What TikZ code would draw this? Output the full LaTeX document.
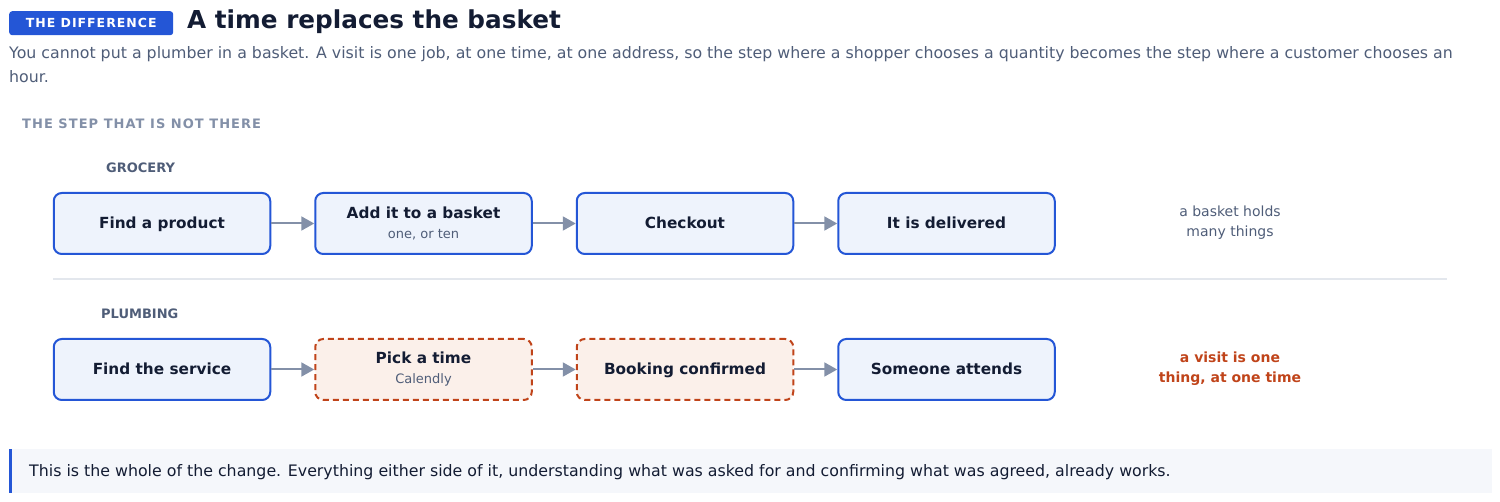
\documentclass[tikz,border=0pt]{standalone}
\usepackage{fontspec}
\setmainfont{DejaVu Sans}
\newfontfamily\capsfont[LetterSpace=8]{DejaVu Sans}
\usetikzlibrary{positioning,arrows.meta}
\definecolor{ink}{HTML}{131C33}
\definecolor{slate}{HTML}{4F5D78}
\definecolor{mute}{HTML}{8390A8}
\definecolor{brand}{HTML}{2456D6}
\definecolor{paleblue}{HTML}{EEF3FC}
\definecolor{rust}{HTML}{C0441A}
\definecolor{palerust}{HTML}{FBF0EA}
\definecolor{rulegray}{HTML}{E3E7ED}
\definecolor{callbg}{HTML}{F5F7FB}
\newcommand\fsz[2]{\fontsize{#1}{#2}\selectfont}
\newcommand\subline[1]{{\fsz{13}{16}\mdseries\color{slate}#1}}

\begin{document}
\begin{tikzpicture}[x=1pt,y=-1pt,
    card/.style={rectangle, rounded corners=8pt, draw=brand, fill=paleblue,
        line width=2pt, minimum width=216.5pt, minimum height=61pt, align=center,
        text=ink, font=\fsz{15.3}{21}\bfseries},
    stepbox/.style={card, text height=10pt, text depth=0pt},
    pairbox/.style={card},
    dashedbox/.style={draw=rust, fill=palerust, dash pattern=on 6pt off 4pt},
    label/.style={anchor=base west, inner sep=0pt},
    lane/.style={label, text=slate, font=\fsz{13}{16}\bfseries},
    flow/.style={draw=mute, line width=2pt, -{Triangle[length=13pt,width=14pt]}},
    node distance=43pt]

    \useasboundingbox (0,0) rectangle (1500,502);

    \node[anchor=north west, fill=brand, rounded corners=3pt, minimum width=164pt,
        minimum height=24pt, inner sep=0pt, text=white,
        font=\capsfont\fsz{12.5}{15}\bfseries] (badge) at (9,11) {THE DIFFERENCE};
    \node[label, text=ink, font=\fsz{24.7}{28}\bfseries] (title) at (187,29)
        {A time replaces the basket};
    \node[label, text=slate, font=\fsz{15.8}{24}] (intro) at (9,59)
        {You cannot put a plumber in a basket. A visit is one job, at one time, at one address, so the step where a shopper chooses a quantity becomes the step where a customer chooses an};
    \node[label, text=slate, font=\fsz{15.8}{24}] (intro2) at (9,83) {hour.};
    \node[label, text=mute, font=\capsfont\fsz{13}{16}\bfseries] (missing) at (22,129)
        {THE STEP THAT IS NOT THERE};

    \node[lane] (grocery) at (106,173) {GROCERY};
    \node[stepbox] (find) at (162,223.5) {Find a product};
    \node[pairbox, right=of find] (add) {Add it to a basket\\[-1pt]\subline{one, or ten}};
    \node[stepbox, right=of add] (checkout) {Checkout};
    \node[stepbox, right=of checkout] (deliver) {It is delivered};
    \node[text=slate, font=\fsz{14}{20}, align=center] (holds) at (1230,223)
        {a basket holds\\many things};

    \draw[rulegray, line width=1.5pt] (53,279) -- (1447,279);

    \node[lane] (plumbing) at (101,319) {PLUMBING};
    \node[stepbox] (service) at (162,369.5) {Find the service};
    \node[pairbox, dashedbox, right=of service] (pick) {Pick a time\\[-1pt]\subline{Calendly}};
    \node[stepbox, dashedbox, right=of pick] (booked) {Booking confirmed};
    \node[stepbox, right=of booked] (attend) {Someone attends};
    \node[text=rust, font=\fsz{14}{20}\bfseries, align=center] (visit) at (1230,369)
        {a visit is one\\thing, at one time};

    \foreach \a/\b in {find/add, add/checkout, checkout/deliver,
        service/pick, pick/booked, booked/attend}
        \draw[flow] (\a) -- (\b);

    \fill[callbg] (9,449) rectangle (1492,493);
    \fill[brand] (9,449) rectangle (12,493);
    \node[label, text=ink, font=\fsz{15.8}{20}] (change) at (29,477)
        {This is the whole of the change. Everything either side of it, understanding what was asked for and confirming what was agreed, already works.};
\end{tikzpicture}
\end{document}
